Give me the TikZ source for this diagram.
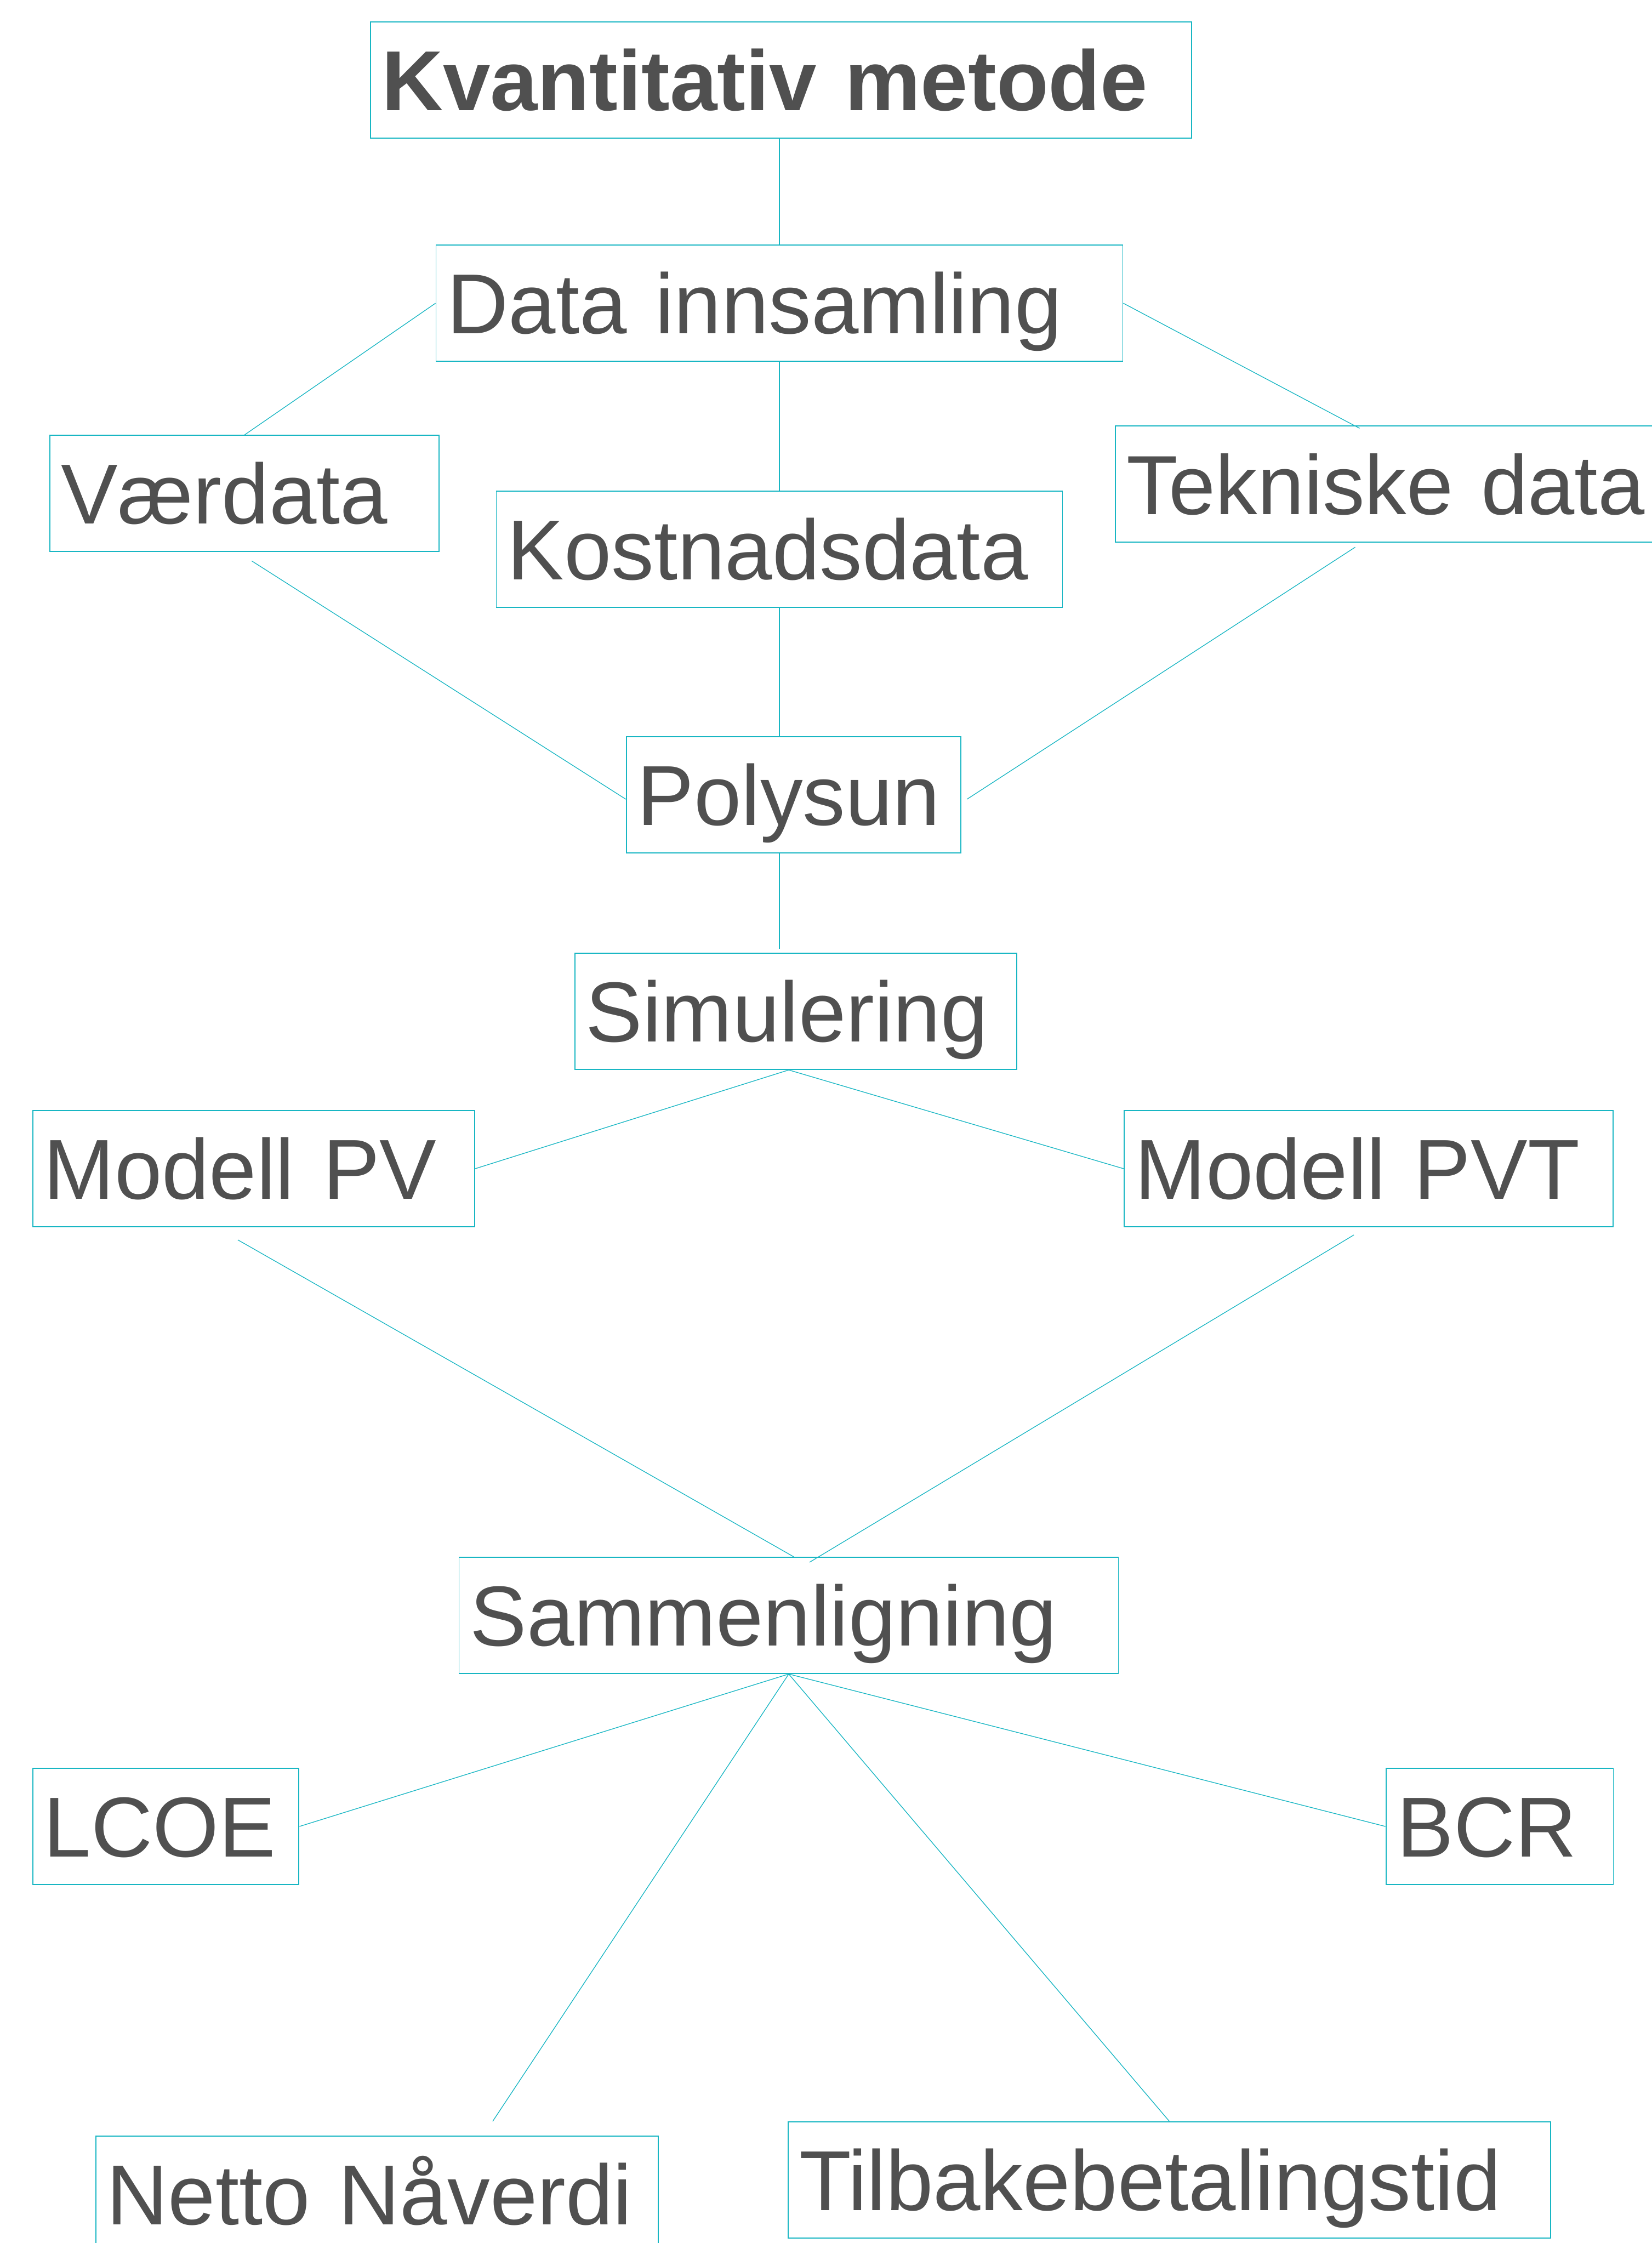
\documentclass[tikz,border=0pt]{standalone}
\usepackage{fontspec}
\setmainfont{Liberation Sans}
\usepackage{tikz}
\usetikzlibrary{calc}
\definecolor{linecyan}{HTML}{18B6C3}
\definecolor{textgrey}{HTML}{505050}
\tikzset{
    box/.style={rectangle, draw=linecyan, line width=0.55pt, text=textgrey,
        font=\fontsize{44.2}{52}\selectfont, align=left, text width=#1,
        minimum height=2.12cm, inner xsep=0.2cm, inner ysep=0pt,
        text height=31.6pt, text depth=0pt},
    boldbox/.style={box=#1, font=\fontsize{44.2}{52}\selectfont\bfseries},
    conn/.style={draw=linecyan, line width=0.38pt},
}

\begin{document}
\begin{tikzpicture}

\useasboundingbox (0,0) rectangle (30.14,-40.92);

% ================================================================
%  TOP: METHOD AND DATA
% ================================================================

\node[boldbox=14.58cm] (kvant) at (14.25, -1.461) {Kvantitativ metode};
\node[box=12.13cm] (data)  at (14.22, -5.532) {Data innsamling};

\node[box=6.70cm]  (vaer)  at (4.462, -9.003) {Værdata};
\node[box=9.93cm]  (kost)  at (14.22, -10.02) {Kostnadsdata};
\node[box=10.2cm, font=\fontsize{43.6}{52}\selectfont]
      (tekn)  at (25.654, -8.833) {Tekniske data};

\draw[conn] (data.north |- kvant.south) -- (data.north);
\draw[conn] (data.west) -- (vaer.north);
\draw[conn] (data.south) -- (kost.north);
\draw[conn] (data.east) -- ($(tekn.north west)+(4.46,-0.05)$);

% ================================================================
%  POLYSUN AND SIMULATION
% ================================================================

\node[box=5.706cm] (poly) at (14.48, -14.50) {Polysun};
\node[box=7.663cm] (simu) at (14.52, -18.45) {Simulering};

\draw[conn] ($(vaer.south)+(0.13,-0.16)$) -- ($(poly.west)+(0,-0.08)$);
\draw[conn] (kost.south) -- (kost.south |- poly.north);
\draw[conn] ($(tekn.south west)+(4.38,-0.08)$) --
    ($(poly.east)+(0.1,-0.08)$);
\draw[conn] (kost.south |- poly.south) --
    ($(kost.south |- simu.north)+(0,0.07)$);

% ================================================================
%  MODELS
% ================================================================

\node[box=7.663cm] (mpv)  at (4.63, -21.32) {Modell PV};
\node[box=8.525cm] (mpvt) at (24.97, -21.32) {Modell PVT};

\coordinate (simufork) at ($(simu.south)+(-0.13,0)$);
\draw[conn] (simufork) -- (mpv.east);
\draw[conn] (simufork) -- (mpvt.west);

% ================================================================
%  COMPARISON
% ================================================================

\node[box=11.63cm] (samm) at (14.39, -29.47) {Sammenligning};

\draw[conn] ($(mpv.south)+(-0.29,-0.23)$) -- ($(samm.north)+(0.09,0)$);
\draw[conn] ($(mpvt.south)+(-0.27,-0.14)$) --
    ($(samm.north)+(0.38,-0.1)$);

% ================================================================
%  RESULTS
% ================================================================

\node[box=4.454cm] (lcoe)  at (3.027, -33.32) {LCOE};
\node[box=3.749cm] (bcr)   at (27.36, -33.32) {BCR};
\node[box=9.86cm]  (netto) at (6.878, -40.03) {Netto Nåverdi};
\node[box=13.51cm] (tilb)  at (21.335, -39.77) {Tilbakebetalingstid};

\draw[conn] (samm.south) -- (lcoe.east);
\draw[conn] (samm.south) -- (bcr.west);
\draw[conn] (samm.south) -- ($(netto.north west)+(7.25,0.26)$);
\draw[conn] (samm.south) -- (tilb.north);

\end{tikzpicture}
\end{document}
